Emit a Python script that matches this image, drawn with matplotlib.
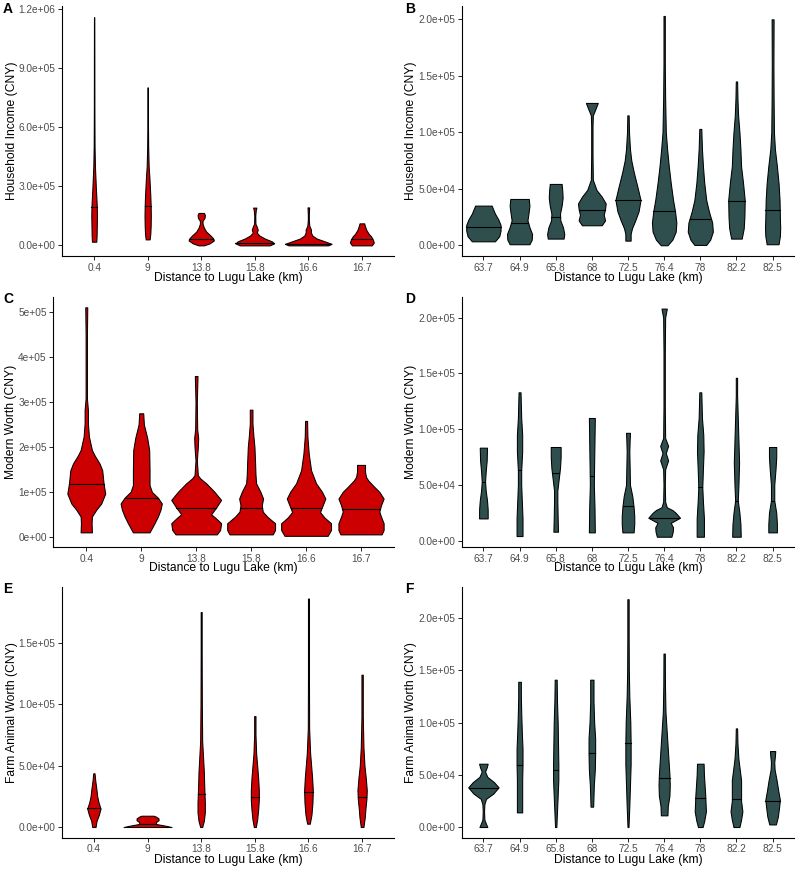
import numpy as np
import matplotlib
matplotlib.use("Agg")
import matplotlib.pyplot as plt

plt.rcParams['font.family'] = ['Liberation Sans', 'DejaVu Sans']

RED = "#CC0000"
SLATE = "#2F4F4F"

# ---------------- data ----------------
near_cats = ['0.4', '9', '13.8', '15.8', '16.6', '16.7']
far_cats = ['63.7', '64.9', '65.8', '68', '72.5', '76.4', '78', '82.2', '82.5']

# Panel A: Household income, near villages (value knots, relative density, median)
A_y = [
    [1.86e4, 5e4, 1e5, 1.5e5, 2e5, 2.5e5, 3e5, 4e5, 5e5, 7e5, 9e5, 1.16e6],
    [3.05e4, 6e4, 1e5, 1.5e5, 2e5, 2.5e5, 3e5, 3.5e5, 4e5, 5e5, 6e5, 8.03e5],
    [0, 1e4, 2.5e4, 3.5e4, 5e4, 7e4, 9e4, 1.1e5, 1.25e5, 1.4e5, 1.55e5, 1.65e5],
    [0, 1e4, 2e4, 3.5e4, 5e4, 6.5e4, 8e4, 9.5e4, 1.1e5, 1.5e5, 1.8e5, 1.92e5],
    [0, 8e3, 2e4, 3.5e4, 5e4, 6.5e4, 8e4, 1e5, 1.3e5, 1.6e5, 1.93e5],
    [0, 1.5e4, 3e4, 4.5e4, 6e4, 8e4, 1e5, 1.12e5],
]
A_d = [
    [6.5, 7.5, 8, 8.5, 8, 6.5, 5, 2.5, 1.3, 0.8, 0.7, 0.5],
    [6, 8, 9, 9.5, 9, 8, 6.5, 5, 3, 1.5, 1, 0.8],
    [8, 25, 38, 36, 28, 15, 8, 4, 4, 10, 11, 8],
    [45, 58, 52, 30, 14, 6, 9, 6, 2, 1.5, 3, 5],
    [60, 70, 50, 25, 12, 8, 8, 3, 1.5, 1.5, 2.5],
    [30, 36, 33, 28, 20, 13, 9, 7],
]
A_med = [1.93e5, 2.0e5, 3.4e4, 1.0e4, 8.5e3, 3.4e4]

# Panel B: Household income, far villages
B_y = [
    [3.5e3, 8e3, 1.3e4, 1.8e4, 2.3e4, 2.8e4, 3.51e4],
    [9e2, 5e3, 1e4, 1.6e4, 2.2e4, 2.8e4, 3.5e4, 4.1e4],
    [5.9e3, 1e4, 1.6e4, 2.2e4, 2.8e4, 3.5e4, 4.2e4, 4.8e4, 5.43e4],
    [1.77e4, 2.2e4, 2.7e4, 3.2e4, 3.7e4, 4.3e4, 4.9e4, 5.8e4, 8e4, 1.05e5, 1.15e5, 1.2e5, 1.26e5],
    [4.1e3, 1e4, 1.5e4, 2.2e4, 3e4, 4e4, 5e4, 6.4e4, 7.5e4, 8.5e4, 1e5, 1.15e5],
    [0, 5e3, 1.2e4, 2e4, 3e4, 4e4, 5.5e4, 7e4, 8.5e4, 1e5, 1.3e5, 1.6e5, 2.03e5],
    [3e2, 5e3, 1.2e4, 2e4, 3e4, 4e4, 5.5e4, 7e4, 8.5e4, 1.03e5],
    [5.9e3, 1.5e4, 2.5e4, 4e4, 5.5e4, 7e4, 8.5e4, 1e5, 1.15e5, 1.3e5, 1.45e5],
    [9e2, 8e3, 1.5e4, 2.5e4, 4e4, 5.5e4, 7e4, 8.5e4, 1e5, 1.3e5, 1.6e5, 2.0e5],
]
B_d = [
    [35, 48, 52, 52, 45, 35, 25],
    [30, 37, 38, 30, 24, 27, 30, 28],
    [24, 26, 22, 14, 13, 18, 21, 20, 18],
    [30, 40, 36, 40, 42, 30, 14, 3, 2, 2, 3, 10, 18],
    [8, 8, 12, 22, 32, 38, 30, 18, 10, 6, 3, 2],
    [10, 25, 35, 37, 33, 27, 20, 14, 9, 5, 3, 2, 2],
    [18, 30, 38, 36, 26, 18, 12, 8, 5, 3],
    [16, 22, 24, 25, 20, 14, 12, 9, 5, 3, 2],
    [18, 22, 23, 22, 21, 18, 13, 7, 4, 3, 2.5, 3],
]
B_med = [1.6e4, 2.0e4, 2.48e4, 3.13e4, 4.0e4, 3.07e4, 2.33e4, 3.92e4, 3.1e4]

# Panel C: Modern worth, near villages
C_y = [
    [9.7e3, 3e4, 4.5e4, 6e4, 7.4e4, 9.6e4, 1.19e5, 1.48e5, 1.63e5, 1.8e5, 1.93e5, 2.23e5, 2.52e5, 2.82e5, 3.08e5, 3.5e5, 4.5e5, 5.11e5],
    [9.7e3, 3e4, 4.5e4, 6e4, 7.4e4, 8.7e4, 1e5, 1.15e5, 1.5e5, 1.93e5, 2.2e5, 2.5e5, 2.75e5],
    [5.2e3, 1.5e4, 3e4, 4.2e4, 5e4, 6.5e4, 8.2e4, 1e5, 1.19e5, 1.3e5, 1.37e5, 1.7e5, 2.0e5, 2.2e5, 2.4e5, 3e5, 3.58e5],
    [5.2e3, 1.5e4, 3e4, 4.5e4, 5.6e4, 7e4, 8.5e4, 1e5, 1.19e5, 1.4e5, 1.63e5, 2e5, 2.23e5, 2.52e5, 2.83e5],
    [2e3, 1.5e4, 3e4, 4.3e4, 5.5e4, 7e4, 8.5e4, 1e5, 1.19e5, 1.48e5, 1.85e5, 2.23e5, 2.58e5],
    [5.2e3, 1.5e4, 3e4, 4.5e4, 5.6e4, 7e4, 8.5e4, 1e5, 1.11e5, 1.25e5, 1.33e5, 1.45e5, 1.6e5],
]
C_d = [
    [17, 16, 17, 30, 45, 57, 52, 48, 40, 26, 17, 8, 5, 5, 2, 2, 2, 3],
    [25, 40, 50, 58, 62, 50, 32, 25, 25, 24, 18, 8, 6],
    [62, 72, 75, 58, 45, 60, 75, 55, 30, 12, 5, 2, 5, 6, 3, 2, 4],
    [65, 72, 72, 48, 35, 32, 36, 28, 15, 13, 12, 10, 7, 4, 4],
    [65, 75, 75, 55, 42, 50, 58, 48, 30, 15, 8, 4, 3],
    [62, 68, 68, 60, 55, 60, 68, 55, 40, 22, 15, 12, 12],
]
C_med = [1.165e5, 8.7e4, 6.5e4, 6.3e4, 6.3e4, 6.1e4]

# Panel D: Modern worth, far villages
D_y = [
    [2e4, 2.8e4, 3.6e4, 4.5e4, 5.3e4, 6.2e4, 7.2e4, 8.34e4],
    [4.2e3, 2e4, 3.5e4, 5e4, 6.3e4, 8e4, 9.5e4, 1.1e5, 1.33e5],
    [8.1e3, 2e4, 3.5e4, 4.5e4, 5.5e4, 6.5e4, 7.5e4, 8.4e4],
    [7.5e3, 3e4, 5e4, 7e4, 9e4, 1.1e5],
    [7.5e3, 1.5e4, 2.2e4, 3e4, 4e4, 5e4, 6.5e4, 8e4, 9e4, 9.67e4],
    [3.6e3, 8e3, 1.2e4, 1.6e4, 2.06e4, 2.5e4, 2.75e4, 3e4, 3.5e4, 5e4, 6.4e4, 7.2e4, 7.85e4, 8.5e4, 9.2e4, 1.2e5, 1.7e5, 2e5, 2.08e5],
    [3.6e3, 2e4, 3.5e4, 4.8e4, 6.5e4, 8e4, 9.5e4, 1.1e5, 1.33e5],
    [3.6e3, 1.5e4, 2.5e4, 3.6e4, 5e4, 7e4, 9e4, 1.1e5, 1.3e5, 1.46e5],
    [7.5e3, 1.5e4, 2.5e4, 3.6e4, 5e4, 6.5e4, 7.5e4, 8.4e4],
]
D_d = [
    [13, 13, 11, 7, 5, 7, 10, 11],
    [9, 9, 7, 5, 5, 8, 8, 5, 3],
    [7, 6, 5, 5, 9, 13, 15, 15],
    [9, 8, 6, 7, 8, 9],
    [17, 19, 19, 17, 13, 6, 5, 4, 5, 6],
    [22, 26, 27, 20, 48, 35, 25, 8, 3, 2, 3, 12, 5, 12, 3, 2, 2, 3, 8],
    [11, 11, 8, 6, 8, 10, 9, 5, 3],
    [13, 12, 9, 4, 6, 8, 6, 4, 2, 2],
    [13, 13, 11, 5, 5, 9, 11, 11],
]
D_med = [5.28e4, 6.3e4, 6.03e4, 5.8e4, 3.1e4, 2.0e4, 4.8e4, 3.6e4, 3.6e4]

# Panel E: Farm animal worth, near villages
E_y = [
    [0, 5e3, 1e4, 1.5e4, 2e4, 2.5e4, 3.2e4, 3.8e4, 4.37e4],
    [0, 1e3, 2.5e3, 4e3, 5.5e3, 7e3, 8.5e3, 9.2e3],
    [0, 5e3, 1.2e4, 2e4, 2.7e4, 3.5e4, 4.5e4, 5.5e4, 7e4, 1e5, 1.4e5, 1.75e5],
    [0, 6e3, 1.4e4, 2.2e4, 3e4, 4e4, 5e4, 6e4, 7.5e4, 9.03e4],
    [2.7e3, 1e4, 2e4, 3e4, 4e4, 5e4, 6e4, 8e4, 1.2e5, 1.86e5],
    [0, 8e3, 1.5e4, 2.3e4, 3e4, 4e4, 5e4, 6.5e4, 9e4, 1.24e5],
]
E_d = [
    [5, 8, 15, 20, 14, 10, 7, 4, 2],
    [72, 55, 25, 25, 33, 33, 25, 18],
    [3, 8, 11, 11, 10, 9, 8, 6, 3, 2, 1.5, 1.5],
    [3, 7, 10, 12, 12, 10, 7, 4, 2, 2],
    [4, 9, 12, 13, 11, 8, 5, 2, 1.5, 1.5],
    [4, 8, 10, 13, 14, 11, 7, 4, 2, 2],
]
E_med = [1.55e4, 2.7e3, 2.71e4, 2.47e4, 2.87e4, 2.41e4]

# Panel F: Farm animal worth, far villages
F_y = [
    [0, 3e3, 7e3, 1.5e4, 2.2e4, 2.7e4, 3.2e4, 3.8e4, 4.3e4, 4.8e4, 5.3e4, 5.7e4, 6.06e4],
    [1.4e4, 3e4, 4.5e4, 6e4, 7.5e4, 9e4, 1.1e5, 1.25e5, 1.39e5],
    [0, 1.5e4, 3e4, 4.5e4, 6e4, 8e4, 1e5, 1.2e5, 1.41e5],
    [1.95e4, 3e4, 4e4, 5.5e4, 7e4, 8.5e4, 1e5, 1.2e5, 1.41e5],
    [0, 2e4, 4e4, 6e4, 8e4, 1e5, 1.25e5, 1.5e5, 1.8e5, 2.18e5],
    [1.12e4, 2e4, 3e4, 4e4, 5e4, 6e4, 7.5e4, 9e4, 1.1e5, 1.35e5, 1.66e5],
    [0, 6e3, 1.5e4, 2.2e4, 3e4, 4e4, 5e4, 6.06e4],
    [0, 7e3, 1.5e4, 2.5e4, 3.5e4, 4.5e4, 5.5e4, 6.5e4, 8e4, 9.44e4],
    [2.5e3, 1e4, 2e4, 2.6e4, 3.5e4, 4.5e4, 5.5e4, 6.2e4, 6.8e4, 7.27e4],
]
F_d = [
    [12, 8, 3, 2, 3, 8, 30, 46, 32, 12, 5, 10, 13],
    [8, 8, 8, 9, 9, 7, 5, 4, 4],
    [2, 4, 6, 8, 8, 7, 6, 4, 3],
    [4, 5, 6, 9, 10, 10, 7, 5, 5],
    [1.5, 4, 6, 8, 8, 7, 4, 2.5, 2, 2],
    [10, 11, 16, 17, 16, 14, 11, 8, 4, 2.5, 2],
    [7, 12, 17, 16, 15, 13, 11, 10],
    [9, 14, 18, 14, 14, 14, 10, 6, 3, 2],
    [10, 16, 20, 22, 17, 12, 6, 5, 7, 8],
]
F_med = [3.76e4, 5.9e4, 5.42e4, 7.05e4, 8.0e4, 4.69e4, 2.74e4, 2.68e4, 2.49e4]

A_ticks = [0, 3e5, 6e5, 9e5, 1.2e6]
A_ticklabels = ['0.0e+00', '3.0e+05', '6.0e+05', '9.0e+05', '1.2e+06']
B_ticks = [0, 5e4, 1e5, 1.5e5, 2e5]
B_ticklabels = ['0.0e+00', '5.0e+04', '1.0e+05', '1.5e+05', '2.0e+05']
C_ticks = [0, 1e5, 2e5, 3e5, 4e5, 5e5]
C_ticklabels = ['0e+00', '1e+05', '2e+05', '3e+05', '4e+05', '5e+05']
D_ticks = [0, 5e4, 1e5, 1.5e5, 2e5]
D_ticklabels = ['0.0e+00', '5.0e+04', '1.0e+05', '1.5e+05', '2.0e+05']
E_ticks = [0, 5e4, 1e5, 1.5e5]
E_ticklabels = ['0.0e+00', '5.0e+04', '1.0e+05', '1.5e+05']
F_ticks = [0, 5e4, 1e5, 1.5e5, 2e5]
F_ticklabels = ['0.0e+00', '5.0e+04', '1.0e+05', '1.5e+05', '2.0e+05']

# ---------------- drawing ----------------
W, H = 800, 873
fig = plt.figure(figsize=(W / 100, H / 100), dpi=100)


def px_axes(left, top, right, bottom):
    return fig.add_axes([left / W, 1 - bottom / H, (right - left) / W, (bottom - top) / H])


def draw_panel(ax, cats, ys, ds, meds, color, dscale, ylim, ticks, ticklabels):
    for i, (y, d, m) in enumerate(zip(ys, ds, meds)):
        pos = i + 1
        y = np.asarray(y, float)
        w = np.asarray(d, float) * dscale
        ax.fill_betweenx(y, pos - w, pos + w, facecolor=color, edgecolor='black',
                         linewidth=0.75, zorder=2)
        wm = np.interp(m, y, w)
        ax.plot([pos - wm, pos + wm], [m, m], color='black', lw=0.8, zorder=3)
    ax.set_xlim(0.4, len(cats) + 0.6)
    ax.set_ylim(*ylim)
    ax.set_xticks(range(1, len(cats) + 1))
    ax.set_xticklabels(cats)
    ax.set_yticks(ticks)
    ax.set_yticklabels(ticklabels)
    for s in ['top', 'right']:
        ax.spines[s].set_visible(False)
    for s in ['left', 'bottom']:
        ax.spines[s].set_linewidth(0.8)
    ax.tick_params(length=2.75, width=0.6, pad=2, labelsize=7.3, labelcolor='#4D4D4D')


def labels(ax, letter, ylab, lx, ly, ylx, xly):
    bb = ax.get_position()
    fig.text(lx / W, 1 - ly / H, letter, fontsize=10, fontweight='bold', ha='left', va='top')
    fig.text(ylx / W, bb.y0 + bb.height / 2, ylab, rotation=90, fontsize=8.7, ha='center', va='center')
    fig.text(bb.x0 + bb.width / 2, 1 - xly / H, 'Distance to Lugu Lake (km)', fontsize=8.7,
             ha='center', va='center')


near_scale = 1 / (53.7 * 3)
c_scale = 1 / (55.1 * 3)
far_scale = 1 / (36.5 * 3)

axA = px_axes(62, 6, 394, 256)
draw_panel(axA, near_cats, A_y, A_d, A_med, RED, near_scale, (-5.4e4, 1.217e6), A_ticks, A_ticklabels)
labels(axA, 'A', 'Household Income (CNY)', 3, 2, 12, 278)

axB = px_axes(461.7, 6, 794.3, 256)
draw_panel(axB, far_cats, B_y, B_d, B_med, SLATE, far_scale, (-9.5e3, 2.118e5), B_ticks, B_ticklabels)
labels(axB, 'B', 'Household Income (CNY)', 405, 2, 411, 278)

axC = px_axes(53.3, 297, 394, 547)
draw_panel(axC, near_cats, C_y, C_d, C_med, RED, c_scale, (-2.29e4, 5.34e5), C_ticks, C_ticklabels)
labels(axC, 'C', 'Modern Worth (CNY)', 3, 292, 11, 568)

axD = px_axes(461.7, 297, 794.3, 547)
draw_panel(axD, far_cats, D_y, D_d, D_med, SLATE, far_scale, (-5.6e3, 2.184e5), D_ticks, D_ticklabels)
labels(axD, 'D', 'Modern Worth (CNY)', 405, 292, 411, 568)

axE = px_axes(61.7, 587, 394.3, 837.7)
draw_panel(axE, near_cats, E_y, E_d, E_med, RED, near_scale, (-8.7e3, 1.954e5), E_ticks, E_ticklabels)
labels(axE, 'E', 'Farm Animal Worth (CNY)', 3, 582, 12, 860)

axF = px_axes(461.7, 587, 794.3, 837.7)
draw_panel(axF, far_cats, F_y, F_d, F_med, SLATE, far_scale, (-1.02e4, 2.297e5), F_ticks, F_ticklabels)
labels(axF, 'F', 'Farm Animal Worth (CNY)', 405, 582, 411, 860)

fig.savefig('out.png', dpi=100)
